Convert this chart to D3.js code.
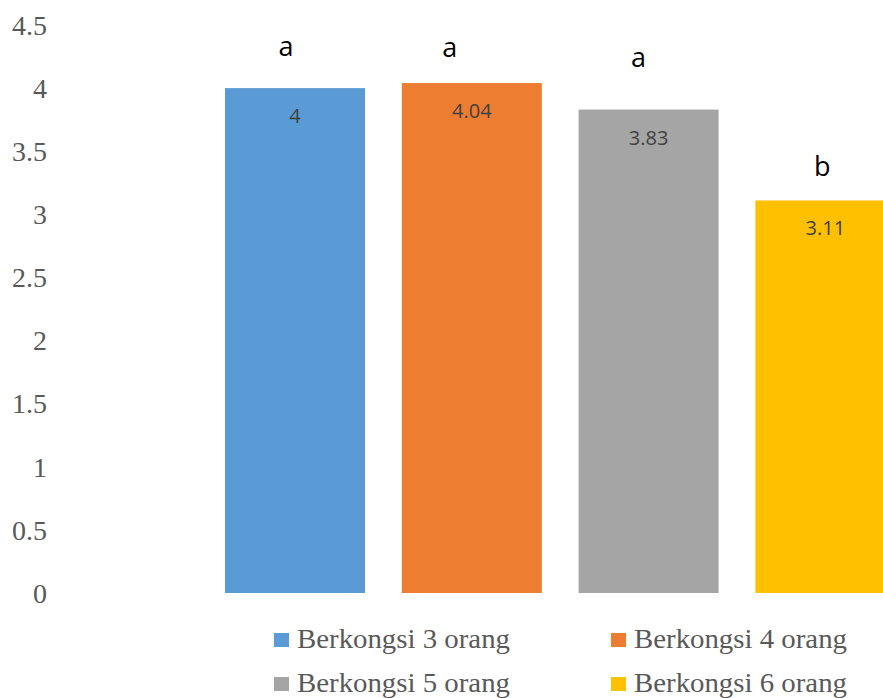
<!DOCTYPE html>
<html>
<head>
<meta charset="utf-8">
<script src="https://cdn.jsdelivr.net/npm/d3@7"></script>
<style>
  html, body { margin: 0; padding: 0; background: #ffffff; }
  svg { display: block; }
</style>
</head>
<body>
<svg id="chart" width="883" height="698"></svg>
<script>
// ---- data ----
const series = ["Berkongsi 3 orang", "Berkongsi 4 orang", "Berkongsi 5 orang", "Berkongsi 6 orang"];
const values = [4, 4.04, 3.83, 3.11];
const valueLabels = ["4", "4.04", "3.83", "3.11"];
const groupLetters = ["a", "a", "a", "b"];
const yTicks = [0, 0.5, 1, 1.5, 2, 2.5, 3, 3.5, 4, 4.5];
const colors = ["#5B9BD5", "#ED7D31", "#A5A5A5", "#FFC000"];

// ---- layout ----
const svg = d3.select("#chart");
const plotTop = 25, plotBottom = 593;
const y = d3.scaleLinear().domain([0, 4.5]).range([plotBottom, plotTop]);
const x = d3.scaleBand().domain(series).range([225, 895.4]).paddingInner(0.208).paddingOuter(0);

// letter annotation nudges (dx from bar centre, dy above bar top) - hand placed in original
const letterNudge = [[-9, -32], [-22, -26], [-10, -43], [-3, -24]];

// y axis
const yAxis = d3.axisLeft(y).tickValues(yTicks).tickSize(0).tickPadding(0)
  .tickFormat(d => d3.format("")(d));
const gy = svg.append("g").attr("transform", "translate(47,0)").call(yAxis);
gy.select(".domain").remove();
gy.selectAll("text")
  .attr("x", 0)
  .attr("dy", "0.33em")
  .attr("text-anchor", "end")
  .style("font-family", "'Liberation Serif', 'Times New Roman', serif")
  .style("font-size", "28px")
  .style("fill", "#595959");

// bars
svg.append("g").selectAll("rect")
  .data(series)
  .join("rect")
  .attr("x", d => x(d))
  .attr("y", (d, i) => y(values[i]))
  .attr("width", x.bandwidth())
  .attr("height", (d, i) => y(0) - y(values[i]))
  .attr("fill", (d, i) => colors[i]);

// value labels
svg.append("g").selectAll("text")
  .data(series)
  .join("text")
  .attr("x", d => x(d) + x.bandwidth() / 2)
  .attr("y", (d, i) => y(values[i]) + 35)
  .attr("text-anchor", "middle")
  .style("font-family", "'Open Sans', 'Noto Sans', sans-serif")
  .style("font-size", "20px")
  .style("fill", "#404040")
  .text((d, i) => valueLabels[i]);

// group letters
svg.append("g").selectAll("text")
  .data(series)
  .join("text")
  .attr("x", (d, i) => x(d) + x.bandwidth() / 2 + letterNudge[i][0])
  .attr("y", (d, i) => y(values[i]) + letterNudge[i][1])
  .attr("text-anchor", "middle")
  .style("font-family", "'Open Sans', 'Noto Sans', sans-serif")
  .style("font-size", "27px")
  .style("fill", "#000000")
  .text((d, i) => groupLetters[i]);

// legend
const legCols = [274, 611];
const legRows = [648, 692];
const leg = svg.append("g").selectAll("g")
  .data(series)
  .join("g")
  .attr("transform", (d, i) => `translate(${legCols[i % 2]},${legRows[Math.floor(i / 2)]})`);
leg.append("rect")
  .attr("x", 0).attr("y", -15)
  .attr("width", 15).attr("height", 14)
  .attr("fill", (d, i) => colors[i]);
leg.append("text")
  .attr("x", 23).attr("y", 0)
  .attr("textLength", 213)
  .attr("lengthAdjust", "spacingAndGlyphs")
  .style("font-family", "'Liberation Serif', 'Times New Roman', serif")
  .style("font-size", "27.5px")
  .style("fill", "#595959")
  .text(d => d);
</script>
</body>
</html>
